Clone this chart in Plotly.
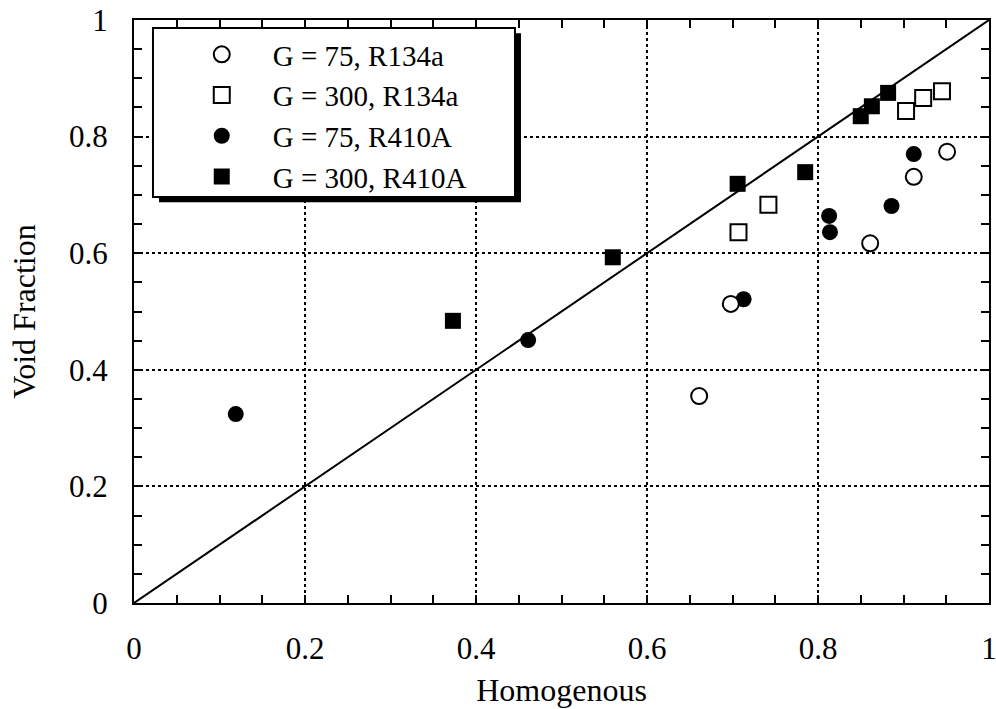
import plotly.graph_objects as go

# G = 75, R134a (open circles)
oc_x = [0.661, 0.698, 0.861, 0.912, 0.951]
oc_y = [0.355, 0.513, 0.617, 0.731, 0.774]
# G = 300, R134a (open squares)
os_x = [0.707, 0.742, 0.903, 0.923, 0.945]
os_y = [0.636, 0.683, 0.844, 0.866, 0.878]
# G = 75, R410A (filled circles)
fc_x = [0.119, 0.461, 0.713, 0.813, 0.814, 0.886, 0.912]
fc_y = [0.324, 0.451, 0.521, 0.664, 0.636, 0.681, 0.770]
# G = 300, R410A (filled squares)
fs_x = [0.373, 0.560, 0.706, 0.785, 0.850, 0.863, 0.882]
fs_y = [0.484, 0.593, 0.719, 0.739, 0.835, 0.852, 0.875]
# diagonal reference line
diag_x = [0, 1]
diag_y = [0, 1]

names = ["G = 75, R134a", "G = 300, R134a", "G = 75, R410A", "G = 300, R410A"]
tickvals = [0, 0.2, 0.4, 0.6, 0.8, 1]
ticktext = ["0", "0.2", "0.4", "0.6", "0.8", "1"]

FONT = "Liberation Serif"
fig = go.Figure()
fig.add_trace(go.Scatter(x=diag_x, y=diag_y, mode="lines", line=dict(color="black", width=2),
                         showlegend=False, hoverinfo="skip"))
fig.add_trace(go.Scatter(x=fc_x, y=fc_y, mode="markers", name=names[2], legendrank=3,
                         marker=dict(symbol="circle", size=16, color="black")))
fig.add_trace(go.Scatter(x=fs_x, y=fs_y, mode="markers", name=names[3], legendrank=4,
                         marker=dict(symbol="square", size=16, color="black")))
fig.add_trace(go.Scatter(x=oc_x, y=oc_y, mode="markers", name=names[0], legendrank=1,
                         marker=dict(symbol="circle", size=16, color="white",
                                     line=dict(color="black", width=2))))
fig.add_trace(go.Scatter(x=os_x, y=os_y, mode="markers", name=names[1], legendrank=2,
                         marker=dict(symbol="square", size=16, color="white",
                                     line=dict(color="black", width=2))))

axis_common = dict(
    range=[0, 1], tickvals=tickvals, ticktext=ticktext, automargin=False,
    ticklabeloverflow="allow",
    ticks="inside", ticklen=8, tickwidth=2, tickcolor="black",
    showline=True, linecolor="black", linewidth=2, mirror="ticks",
    showgrid=True, gridcolor="black", gridwidth=1.5, griddash="dot",
    zeroline=False,
    minor=dict(dtick=0.05, ticks="inside", ticklen=8, tickwidth=2, tickcolor="black", showgrid=False),
    tickfont=dict(family=FONT, size=31, color="black"),
)

fig.update_xaxes(**axis_common, ticklabelstandoff=17,
                 title=dict(text="Homogenous", font=dict(family=FONT, size=32, color="black"), standoff=13))
fig.update_yaxes(**axis_common, ticklabelstandoff=18,
                 title=dict(text="Void Fraction", font=dict(family=FONT, size=32, color="black"), standoff=24))

# legend box with drop shadow
x0, x1, y0, y1 = 0.0222, 0.4456, 0.6964, 0.9863
fig.add_shape(type="rect", xref="paper", yref="paper", x0=x0 + 0.007, x1=x1 + 0.007,
              y0=y0 - 0.009, y1=y1 - 0.009, fillcolor="black", line=dict(width=0), layer="above")
fig.add_shape(type="rect", xref="paper", yref="paper", x0=x0, x1=x1, y0=y0, y1=y1,
              fillcolor="white", line=dict(color="black", width=2), layer="above")

fig.update_layout(
    width=996, height=709,
    margin=dict(l=134, r=7, t=20, b=106),
    paper_bgcolor="white", plot_bgcolor="white",
    font=dict(family=FONT, size=31, color="black"),
    legend=dict(x=0.043, y=0.9846, xanchor="left", yanchor="top", bgcolor="rgba(0,0,0,0)",
                borderwidth=0, itemwidth=92, font=dict(family=FONT, size=29, color="black"),
                tracegroupgap=0),
    showlegend=True,
)

fig.write_html("out.html")
